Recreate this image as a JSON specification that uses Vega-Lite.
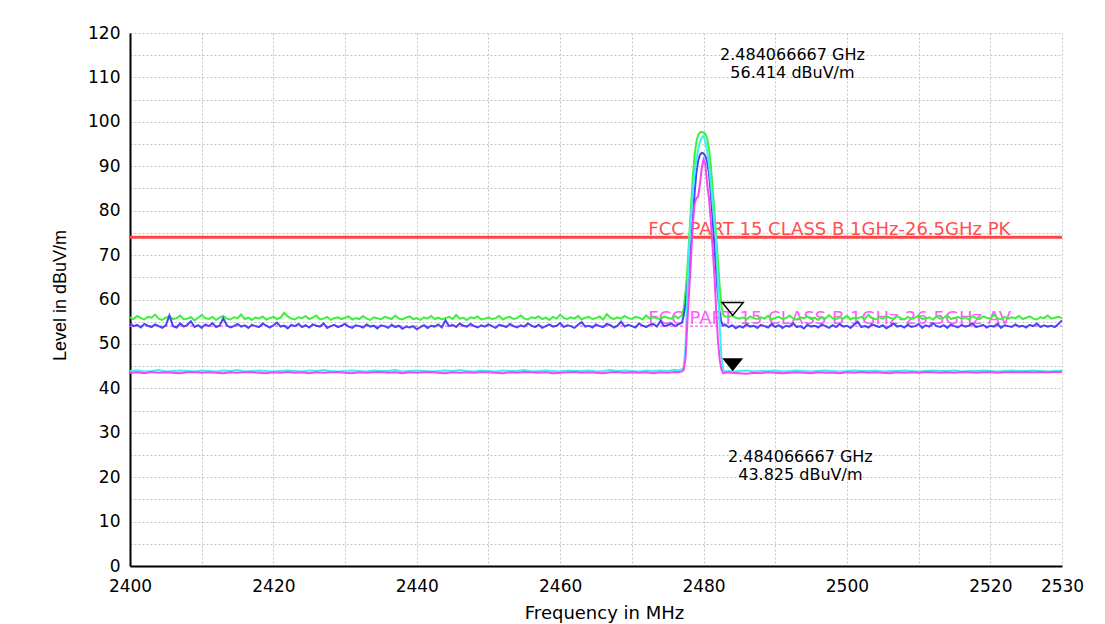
{
  "$schema": "https://vega.github.io/schema/vega-lite/v6.json",
  "width": 932,
  "height": 533,
  "autosize": {"type": "none"},
  "padding": {"left": 130, "top": 33, "right": 43, "bottom": 58},
  "background": "white",
  "config": {"view": {"stroke": null}, "font": "DejaVu Sans"},
  "datasets": {
    "green": [
      {"f":2400,"v":56.0},{"f":2400.5,"v":55.6},{"f":2401,"v":56.3},{"f":2401.5,"v":55.8},{"f":2402,"v":55.5},{"f":2402.5,"v":56.1},{"f":2403,"v":55.9},{"f":2403.5,"v":56.6},{"f":2404,"v":55.7},{"f":2404.5,"v":55.4},
      {"f":2405,"v":55.9},{"f":2405.5,"v":56.2},{"f":2406,"v":55.6},{"f":2406.5,"v":55.8},{"f":2407,"v":56.4},{"f":2407.5,"v":55.5},{"f":2408,"v":55.7},{"f":2408.5,"v":56.0},{"f":2409,"v":55.3},{"f":2409.5,"v":55.9},
      {"f":2410,"v":56.5},{"f":2410.5,"v":55.8},{"f":2411,"v":55.6},{"f":2411.5,"v":56.1},{"f":2412,"v":55.4},{"f":2412.5,"v":55.9},{"f":2413,"v":56.3},{"f":2413.5,"v":55.7},{"f":2414,"v":55.5},{"f":2414.5,"v":56.0},
      {"f":2415,"v":55.8},{"f":2415.5,"v":56.6},{"f":2416,"v":55.6},{"f":2416.5,"v":55.9},{"f":2417,"v":55.4},{"f":2417.5,"v":56.0},{"f":2418,"v":55.7},{"f":2418.5,"v":56.2},{"f":2419,"v":55.5},{"f":2419.5,"v":55.8},
      {"f":2420,"v":56.1},{"f":2420.5,"v":55.6},{"f":2421,"v":55.9},{"f":2421.5,"v":57.0},{"f":2422,"v":56.2},{"f":2422.5,"v":55.7},{"f":2423,"v":55.5},{"f":2423.5,"v":56.0},{"f":2424,"v":55.8},{"f":2424.5,"v":56.3},
      {"f":2425,"v":55.6},{"f":2425.5,"v":55.9},{"f":2426,"v":56.4},{"f":2426.5,"v":55.5},{"f":2427,"v":55.7},{"f":2427.5,"v":56.1},{"f":2428,"v":55.4},{"f":2428.5,"v":55.8},{"f":2429,"v":56.0},{"f":2429.5,"v":55.6},
      {"f":2430,"v":55.9},{"f":2430.5,"v":56.2},{"f":2431,"v":55.5},{"f":2431.5,"v":55.8},{"f":2432,"v":55.6},{"f":2432.5,"v":56.3},{"f":2433,"v":55.7},{"f":2433.5,"v":55.4},{"f":2434,"v":56.0},{"f":2434.5,"v":55.8},
      {"f":2435,"v":55.5},{"f":2435.5,"v":56.1},{"f":2436,"v":55.9},{"f":2436.5,"v":55.6},{"f":2437,"v":56.4},{"f":2437.5,"v":55.7},{"f":2438,"v":55.5},{"f":2438.5,"v":55.9},{"f":2439,"v":56.2},{"f":2439.5,"v":55.6},
      {"f":2440,"v":55.8},{"f":2440.5,"v":55.4},{"f":2441,"v":56.0},{"f":2441.5,"v":55.7},{"f":2442,"v":56.3},{"f":2442.5,"v":55.6},{"f":2443,"v":55.9},{"f":2443.5,"v":55.5},{"f":2444,"v":55.8},{"f":2444.5,"v":56.1},
      {"f":2445,"v":55.6},{"f":2445.5,"v":56.5},{"f":2446,"v":55.7},{"f":2446.5,"v":55.9},{"f":2447,"v":55.4},{"f":2447.5,"v":56.0},{"f":2448,"v":55.8},{"f":2448.5,"v":56.2},{"f":2449,"v":55.5},{"f":2449.5,"v":55.7},
      {"f":2450,"v":56.0},{"f":2450.5,"v":55.6},{"f":2451,"v":55.8},{"f":2451.5,"v":56.3},{"f":2452,"v":55.5},{"f":2452.5,"v":55.9},{"f":2453,"v":56.1},{"f":2453.5,"v":55.6},{"f":2454,"v":55.8},{"f":2454.5,"v":56.4},
      {"f":2455,"v":55.7},{"f":2455.5,"v":55.5},{"f":2456,"v":56.0},{"f":2456.5,"v":55.8},{"f":2457,"v":56.2},{"f":2457.5,"v":55.6},{"f":2458,"v":55.9},{"f":2458.5,"v":55.4},{"f":2459,"v":56.1},{"f":2459.5,"v":55.7},
      {"f":2460,"v":56.6},{"f":2460.5,"v":55.8},{"f":2461,"v":55.6},{"f":2461.5,"v":56.0},{"f":2462,"v":55.7},{"f":2462.5,"v":56.3},{"f":2463,"v":55.5},{"f":2463.5,"v":55.9},{"f":2464,"v":56.1},{"f":2464.5,"v":55.6},
      {"f":2465,"v":55.8},{"f":2465.5,"v":56.2},{"f":2466,"v":55.5},{"f":2466.5,"v":56.7},{"f":2467,"v":55.9},{"f":2467.5,"v":55.6},{"f":2468,"v":56.0},{"f":2468.5,"v":55.7},{"f":2469,"v":56.3},{"f":2469.5,"v":55.8},
      {"f":2470,"v":55.6},{"f":2470.5,"v":56.1},{"f":2471,"v":55.9},{"f":2471.5,"v":55.5},{"f":2472,"v":56.4},{"f":2472.5,"v":55.7},{"f":2473,"v":56.0},{"f":2473.5,"v":55.8},{"f":2474,"v":55.6},{"f":2474.5,"v":56.2},
      {"f":2475,"v":55.9},{"f":2475.5,"v":55.7},{"f":2476,"v":56.3},{"f":2476.5,"v":55.8},
      {"f":2477,"v":56.5},{"f":2477.25,"v":58},{"f":2477.5,"v":62},{"f":2477.75,"v":67},{"f":2478,"v":74},{"f":2478.25,"v":81},{"f":2478.5,"v":87.5},{"f":2478.75,"v":92.5},{"f":2479,"v":95.5},{"f":2479.25,"v":97},{"f":2479.5,"v":97.6},{"f":2479.75,"v":97.7},{"f":2480,"v":97.6},{"f":2480.25,"v":97.3},{"f":2480.5,"v":96.3},{"f":2480.75,"v":94},{"f":2481,"v":90.5},{"f":2481.25,"v":85.5},{"f":2481.5,"v":80},{"f":2481.75,"v":74.5},{"f":2482,"v":69},{"f":2482.25,"v":63},{"f":2482.5,"v":58.5},{"f":2482.75,"v":56.6},{"f":2483,"v":56.2},
      {"f":2483.5,"v":56.1},{"f":2484,"v":56.4},{"f":2484.5,"v":55.9},{"f":2485,"v":55.7},{"f":2485.5,"v":56.0},{"f":2486,"v":55.5},{"f":2486.5,"v":56.2},{"f":2487,"v":55.8},{"f":2487.5,"v":55.6},{"f":2488,"v":56.0},
      {"f":2488.5,"v":55.7},{"f":2489,"v":56.3},{"f":2489.5,"v":55.5},{"f":2490,"v":55.9},{"f":2490.5,"v":56.1},{"f":2491,"v":55.6},{"f":2491.5,"v":55.8},{"f":2492,"v":56.4},{"f":2492.5,"v":55.7},{"f":2493,"v":55.5},
      {"f":2493.5,"v":56.0},{"f":2494,"v":55.8},{"f":2494.5,"v":56.2},{"f":2495,"v":55.6},{"f":2495.5,"v":55.9},{"f":2496,"v":55.4},{"f":2496.5,"v":56.1},{"f":2497,"v":55.7},{"f":2497.5,"v":56.5},{"f":2498,"v":55.8},
      {"f":2498.5,"v":55.6},{"f":2499,"v":56.0},{"f":2499.5,"v":55.7},{"f":2500,"v":56.3},{"f":2500.5,"v":55.5},{"f":2501,"v":55.9},{"f":2501.5,"v":55.8},{"f":2502,"v":56.1},{"f":2502.5,"v":55.6},{"f":2503,"v":56.6},
      {"f":2503.5,"v":55.8},{"f":2504,"v":55.5},{"f":2504.5,"v":56.0},{"f":2505,"v":55.7},{"f":2505.5,"v":56.2},{"f":2506,"v":55.9},{"f":2506.5,"v":55.6},{"f":2507,"v":56.3},{"f":2507.5,"v":55.8},{"f":2508,"v":55.5},
      {"f":2508.5,"v":56.1},{"f":2509,"v":55.7},{"f":2509.5,"v":55.9},{"f":2510,"v":56.4},{"f":2510.5,"v":55.6},{"f":2511,"v":55.8},{"f":2511.5,"v":56.0},{"f":2512,"v":55.5},{"f":2512.5,"v":56.2},{"f":2513,"v":55.7},
      {"f":2513.5,"v":55.9},{"f":2514,"v":56.5},{"f":2514.5,"v":55.6},{"f":2515,"v":55.8},{"f":2515.5,"v":56.1},{"f":2516,"v":55.7},{"f":2516.5,"v":56.0},{"f":2517,"v":55.5},{"f":2517.5,"v":56.3},{"f":2518,"v":55.8},
      {"f":2518.5,"v":55.6},{"f":2519,"v":56.2},{"f":2519.5,"v":55.9},{"f":2520,"v":55.7},{"f":2520.5,"v":56.6},{"f":2521,"v":55.8},{"f":2521.5,"v":55.5},{"f":2522,"v":56.1},{"f":2522.5,"v":55.7},{"f":2523,"v":56.0},
      {"f":2523.5,"v":55.8},{"f":2524,"v":56.3},{"f":2524.5,"v":55.6},{"f":2525,"v":55.9},{"f":2525.5,"v":56.2},{"f":2526,"v":55.7},{"f":2526.5,"v":55.5},{"f":2527,"v":56.0},{"f":2527.5,"v":55.8},{"f":2528,"v":56.4},
      {"f":2528.5,"v":55.7},{"f":2529,"v":55.9},{"f":2529.5,"v":56.1},{"f":2530,"v":55.8}
    ],
    "blue": [
      {"f":2400,"v":54.6},{"f":2400.5,"v":54.0},{"f":2401,"v":54.3},{"f":2401.5,"v":53.7},{"f":2402,"v":54.5},{"f":2402.5,"v":54.1},{"f":2403,"v":53.8},{"f":2403.5,"v":54.4},{"f":2404,"v":54.0},{"f":2404.5,"v":53.6},
      {"f":2405,"v":54.2},{"f":2405.5,"v":56.4},{"f":2406,"v":54.0},{"f":2406.5,"v":53.7},{"f":2407,"v":54.6},{"f":2407.5,"v":53.9},{"f":2408,"v":54.3},{"f":2408.5,"v":55.1},{"f":2409,"v":53.8},{"f":2409.5,"v":54.2},
      {"f":2410,"v":53.6},{"f":2410.5,"v":54.4},{"f":2411,"v":54.0},{"f":2411.5,"v":54.7},{"f":2412,"v":53.8},{"f":2412.5,"v":54.1},{"f":2413,"v":55.8},{"f":2413.5,"v":54.2},{"f":2414,"v":53.7},{"f":2414.5,"v":54.0},
      {"f":2415,"v":54.5},{"f":2415.5,"v":53.9},{"f":2416,"v":54.2},{"f":2416.5,"v":53.6},{"f":2417,"v":54.3},{"f":2417.5,"v":54.0},{"f":2418,"v":53.8},{"f":2418.5,"v":54.6},{"f":2419,"v":54.1},{"f":2419.5,"v":53.7},
      {"f":2420,"v":54.2},{"f":2420.5,"v":54.8},{"f":2421,"v":53.9},{"f":2421.5,"v":54.1},{"f":2422,"v":53.5},{"f":2422.5,"v":54.3},{"f":2423,"v":54.0},{"f":2423.5,"v":54.5},{"f":2424,"v":53.8},{"f":2424.5,"v":54.2},
      {"f":2425,"v":53.7},{"f":2425.5,"v":54.4},{"f":2426,"v":54.1},{"f":2426.5,"v":53.9},{"f":2427,"v":54.6},{"f":2427.5,"v":53.6},{"f":2428,"v":54.0},{"f":2428.5,"v":54.3},{"f":2429,"v":53.8},{"f":2429.5,"v":54.1},
      {"f":2430,"v":54.5},{"f":2430.5,"v":53.9},{"f":2431,"v":53.6},{"f":2431.5,"v":54.2},{"f":2432,"v":54.0},{"f":2432.5,"v":53.7},{"f":2433,"v":54.4},{"f":2433.5,"v":53.9},{"f":2434,"v":54.1},{"f":2434.5,"v":53.5},
      {"f":2435,"v":54.2},{"f":2435.5,"v":54.0},{"f":2436,"v":53.6},{"f":2436.5,"v":54.3},{"f":2437,"v":53.8},{"f":2437.5,"v":54.1},{"f":2438,"v":53.4},{"f":2438.5,"v":53.9},{"f":2439,"v":53.7},{"f":2439.5,"v":54.0},
      {"f":2440,"v":53.3},{"f":2440.5,"v":53.8},{"f":2441,"v":54.2},{"f":2441.5,"v":53.6},{"f":2442,"v":54.1},{"f":2442.5,"v":53.9},{"f":2443,"v":54.4},{"f":2443.5,"v":53.7},{"f":2444,"v":55.3},{"f":2444.5,"v":54.0},
      {"f":2445,"v":54.3},{"f":2445.5,"v":53.8},{"f":2446,"v":54.6},{"f":2446.5,"v":54.1},{"f":2447,"v":53.9},{"f":2447.5,"v":54.5},{"f":2448,"v":54.0},{"f":2448.5,"v":53.7},{"f":2449,"v":54.2},{"f":2449.5,"v":53.9},
      {"f":2450,"v":54.4},{"f":2450.5,"v":54.0},{"f":2451,"v":53.6},{"f":2451.5,"v":54.3},{"f":2452,"v":54.1},{"f":2452.5,"v":53.8},{"f":2453,"v":54.5},{"f":2453.5,"v":54.0},{"f":2454,"v":53.7},{"f":2454.5,"v":54.2},
      {"f":2455,"v":53.9},{"f":2455.5,"v":54.6},{"f":2456,"v":54.1},{"f":2456.5,"v":53.8},{"f":2457,"v":54.3},{"f":2457.5,"v":53.6},{"f":2458,"v":54.0},{"f":2458.5,"v":54.4},{"f":2459,"v":53.9},{"f":2459.5,"v":54.1},
      {"f":2460,"v":54.7},{"f":2460.5,"v":53.8},{"f":2461,"v":54.2},{"f":2461.5,"v":54.0},{"f":2462,"v":53.6},{"f":2462.5,"v":54.3},{"f":2463,"v":54.9},{"f":2463.5,"v":53.9},{"f":2464,"v":54.1},{"f":2464.5,"v":53.7},
      {"f":2465,"v":54.4},{"f":2465.5,"v":54.0},{"f":2466,"v":53.8},{"f":2466.5,"v":54.5},{"f":2467,"v":54.2},{"f":2467.5,"v":53.7},{"f":2468,"v":54.1},{"f":2468.5,"v":55.0},{"f":2469,"v":53.9},{"f":2469.5,"v":54.3},
      {"f":2470,"v":54.0},{"f":2470.5,"v":53.7},{"f":2471,"v":54.6},{"f":2471.5,"v":54.1},{"f":2472,"v":53.8},{"f":2472.5,"v":54.3},{"f":2473,"v":54.5},{"f":2473.5,"v":53.9},{"f":2474,"v":55.2},{"f":2474.5,"v":54.0},
      {"f":2475,"v":54.2},{"f":2475.5,"v":54.6},{"f":2476,"v":54.0},{"f":2476.5,"v":54.4},
      {"f":2477,"v":54.8},{"f":2477.25,"v":56.5},{"f":2477.5,"v":59},{"f":2477.75,"v":63},{"f":2478,"v":67.5},{"f":2478.25,"v":72},{"f":2478.5,"v":78},{"f":2478.75,"v":84},{"f":2479,"v":88.5},{"f":2479.25,"v":91.2},{"f":2479.5,"v":92.6},{"f":2479.75,"v":93},{"f":2480,"v":92.9},{"f":2480.25,"v":92.3},{"f":2480.5,"v":91},{"f":2480.75,"v":88.5},{"f":2481,"v":84},{"f":2481.25,"v":78.5},{"f":2481.5,"v":72.5},{"f":2481.75,"v":66.5},{"f":2482,"v":61},{"f":2482.25,"v":57},{"f":2482.5,"v":54.8},{"f":2482.75,"v":54.1},{"f":2483,"v":54.4},
      {"f":2483.5,"v":53.8},{"f":2484,"v":54.2},{"f":2484.5,"v":53.5},{"f":2485,"v":54.0},{"f":2485.5,"v":53.7},{"f":2486,"v":54.4},{"f":2486.5,"v":53.9},{"f":2487,"v":54.1},{"f":2487.5,"v":53.6},{"f":2488,"v":54.3},
      {"f":2488.5,"v":54.0},{"f":2489,"v":53.7},{"f":2489.5,"v":54.5},{"f":2490,"v":53.8},{"f":2490.5,"v":54.2},{"f":2491,"v":53.6},{"f":2491.5,"v":54.1},{"f":2492,"v":53.9},{"f":2492.5,"v":54.6},{"f":2493,"v":53.8},
      {"f":2493.5,"v":54.0},{"f":2494,"v":53.5},{"f":2494.5,"v":54.3},{"f":2495,"v":53.9},{"f":2495.5,"v":54.1},{"f":2496,"v":53.7},{"f":2496.5,"v":54.4},{"f":2497,"v":54.0},{"f":2497.5,"v":53.6},{"f":2498,"v":54.2},
      {"f":2498.5,"v":53.8},{"f":2499,"v":54.5},{"f":2499.5,"v":53.9},{"f":2500,"v":54.1},{"f":2500.5,"v":53.6},{"f":2501,"v":54.3},{"f":2501.5,"v":55.0},{"f":2502,"v":53.8},{"f":2502.5,"v":54.0},{"f":2503,"v":53.7},
      {"f":2503.5,"v":54.4},{"f":2504,"v":54.1},{"f":2504.5,"v":53.8},{"f":2505,"v":54.2},{"f":2505.5,"v":53.5},{"f":2506,"v":54.0},{"f":2506.5,"v":54.6},{"f":2507,"v":53.9},{"f":2507.5,"v":54.1},{"f":2508,"v":53.7},
      {"f":2508.5,"v":54.3},{"f":2509,"v":53.8},{"f":2509.5,"v":54.0},{"f":2510,"v":54.5},{"f":2510.5,"v":53.6},{"f":2511,"v":54.2},{"f":2511.5,"v":53.9},{"f":2512,"v":54.7},{"f":2512.5,"v":54.0},{"f":2513,"v":53.8},
      {"f":2513.5,"v":54.2},{"f":2514,"v":53.6},{"f":2514.5,"v":54.4},{"f":2515,"v":54.0},{"f":2515.5,"v":53.7},{"f":2516,"v":54.3},{"f":2516.5,"v":53.9},{"f":2517,"v":54.1},{"f":2517.5,"v":54.6},{"f":2518,"v":53.8},
      {"f":2518.5,"v":54.0},{"f":2519,"v":54.3},{"f":2519.5,"v":53.7},{"f":2520,"v":54.1},{"f":2520.5,"v":53.9},{"f":2521,"v":54.5},{"f":2521.5,"v":53.6},{"f":2522,"v":54.2},{"f":2522.5,"v":54.0},{"f":2523,"v":53.8},
      {"f":2523.5,"v":54.4},{"f":2524,"v":53.9},{"f":2524.5,"v":54.1},{"f":2525,"v":53.7},{"f":2525.5,"v":54.3},{"f":2526,"v":54.0},{"f":2526.5,"v":54.6},{"f":2527,"v":53.8},{"f":2527.5,"v":54.2},{"f":2528,"v":53.9},
      {"f":2528.5,"v":54.1},{"f":2529,"v":53.8},{"f":2529.5,"v":54.5},{"f":2530,"v":55.3}
    ],
    "cyan": [
      {"f":2400,"v":43.9},{"f":2401,"v":44.0},{"f":2402,"v":43.8},{"f":2403,"v":43.9},{"f":2404,"v":44.1},{"f":2405,"v":43.8},{"f":2406,"v":43.9},{"f":2407,"v":44.0},{"f":2408,"v":43.9},{"f":2409,"v":43.8},
      {"f":2410,"v":44.0},{"f":2411,"v":43.9},{"f":2412,"v":43.8},{"f":2413,"v":44.0},{"f":2414,"v":43.9},{"f":2415,"v":44.1},{"f":2416,"v":43.8},{"f":2417,"v":43.9},{"f":2418,"v":44.0},{"f":2419,"v":43.9},
      {"f":2420,"v":43.8},{"f":2421,"v":43.9},{"f":2422,"v":44.0},{"f":2423,"v":43.9},{"f":2424,"v":43.8},{"f":2425,"v":44.0},{"f":2426,"v":43.9},{"f":2427,"v":44.1},{"f":2428,"v":43.9},{"f":2429,"v":43.8},
      {"f":2430,"v":43.9},{"f":2431,"v":44.0},{"f":2432,"v":43.9},{"f":2433,"v":43.8},{"f":2434,"v":44.0},{"f":2435,"v":43.9},{"f":2436,"v":43.9},{"f":2437,"v":44.1},{"f":2438,"v":43.8},{"f":2439,"v":43.9},
      {"f":2440,"v":44.0},{"f":2441,"v":43.9},{"f":2442,"v":43.8},{"f":2443,"v":43.9},{"f":2444,"v":44.0},{"f":2445,"v":43.9},{"f":2446,"v":44.1},{"f":2447,"v":43.9},{"f":2448,"v":43.8},{"f":2449,"v":44.0},
      {"f":2450,"v":43.9},{"f":2451,"v":43.8},{"f":2452,"v":44.0},{"f":2453,"v":43.9},{"f":2454,"v":43.9},{"f":2455,"v":44.1},{"f":2456,"v":43.8},{"f":2457,"v":43.9},{"f":2458,"v":44.0},{"f":2459,"v":43.9},
      {"f":2460,"v":43.8},{"f":2461,"v":44.0},{"f":2462,"v":43.9},{"f":2463,"v":43.9},{"f":2464,"v":44.0},{"f":2465,"v":43.8},{"f":2466,"v":43.9},{"f":2467,"v":44.1},{"f":2468,"v":43.9},{"f":2469,"v":44.0},
      {"f":2470,"v":43.9},{"f":2471,"v":43.8},{"f":2472,"v":44.0},{"f":2473,"v":43.9},{"f":2474,"v":44.0},{"f":2475,"v":43.9},{"f":2476,"v":44.2},
      {"f":2476.5,"v":44.0},{"f":2477,"v":44.3},{"f":2477.25,"v":44.8},{"f":2477.5,"v":50},{"f":2477.75,"v":62},{"f":2478,"v":72},{"f":2478.25,"v":79},{"f":2478.5,"v":84.5},{"f":2478.75,"v":88.5},{"f":2479,"v":91.5},{"f":2479.25,"v":93.8},{"f":2479.5,"v":95.5},{"f":2479.75,"v":96.5},{"f":2480,"v":96.8},{"f":2480.25,"v":95.5},{"f":2480.5,"v":93.5},{"f":2480.75,"v":90.5},{"f":2481,"v":86.5},{"f":2481.25,"v":82},{"f":2481.5,"v":77.5},{"f":2481.75,"v":73},{"f":2482,"v":64},{"f":2482.25,"v":54},{"f":2482.5,"v":47},{"f":2482.75,"v":44.2},{"f":2483,"v":43.8},{"f":2483.5,"v":43.9},
      {"f":2484,"v":43.8},{"f":2485,"v":43.9},{"f":2486,"v":44.0},{"f":2487,"v":43.8},{"f":2488,"v":43.9},{"f":2489,"v":43.9},{"f":2490,"v":44.0},{"f":2491,"v":43.8},{"f":2492,"v":43.9},{"f":2493,"v":44.0},
      {"f":2494,"v":43.9},{"f":2495,"v":43.8},{"f":2496,"v":43.9},{"f":2497,"v":44.0},{"f":2498,"v":43.9},{"f":2499,"v":43.8},{"f":2500,"v":43.9},{"f":2501,"v":44.0},{"f":2502,"v":43.9},{"f":2503,"v":43.9},
      {"f":2504,"v":44.0},{"f":2505,"v":43.8},{"f":2506,"v":43.9},{"f":2507,"v":43.9},{"f":2508,"v":44.0},{"f":2509,"v":43.9},{"f":2510,"v":43.8},{"f":2511,"v":43.9},{"f":2512,"v":44.0},{"f":2513,"v":43.9},
      {"f":2514,"v":43.9},{"f":2515,"v":44.0},{"f":2516,"v":43.8},{"f":2517,"v":43.9},{"f":2518,"v":43.9},{"f":2519,"v":44.0},{"f":2520,"v":43.9},{"f":2521,"v":43.8},{"f":2522,"v":43.9},{"f":2523,"v":44.0},
      {"f":2524,"v":43.9},{"f":2525,"v":43.9},{"f":2526,"v":44.0},{"f":2527,"v":43.9},{"f":2528,"v":43.8},{"f":2529,"v":43.9},{"f":2530,"v":44.0}
    ],
    "magenta": [
      {"f":2400,"v":43.5},{"f":2401,"v":43.6},{"f":2402,"v":43.4},{"f":2403,"v":43.7},{"f":2404,"v":43.5},{"f":2405,"v":43.6},{"f":2406,"v":43.5},{"f":2407,"v":43.4},{"f":2408,"v":43.6},{"f":2409,"v":43.7},
      {"f":2410,"v":43.5},{"f":2411,"v":43.6},{"f":2412,"v":43.5},{"f":2413,"v":43.4},{"f":2414,"v":43.6},{"f":2415,"v":43.5},{"f":2416,"v":43.7},{"f":2417,"v":43.6},{"f":2418,"v":43.5},{"f":2419,"v":43.4},
      {"f":2420,"v":43.6},{"f":2421,"v":43.5},{"f":2422,"v":43.7},{"f":2423,"v":43.5},{"f":2424,"v":43.6},{"f":2425,"v":43.4},{"f":2426,"v":43.6},{"f":2427,"v":43.5},{"f":2428,"v":43.6},{"f":2429,"v":43.7},
      {"f":2430,"v":43.5},{"f":2431,"v":43.4},{"f":2432,"v":43.6},{"f":2433,"v":43.5},{"f":2434,"v":43.6},{"f":2435,"v":43.7},{"f":2436,"v":43.5},{"f":2437,"v":43.6},{"f":2438,"v":43.4},{"f":2439,"v":43.6},
      {"f":2440,"v":43.5},{"f":2441,"v":43.6},{"f":2442,"v":43.7},{"f":2443,"v":43.5},{"f":2444,"v":43.4},{"f":2445,"v":43.6},{"f":2446,"v":43.5},{"f":2447,"v":43.6},{"f":2448,"v":43.5},{"f":2449,"v":43.7},
      {"f":2450,"v":43.6},{"f":2451,"v":43.5},{"f":2452,"v":43.4},{"f":2453,"v":43.6},{"f":2454,"v":43.5},{"f":2455,"v":43.7},{"f":2456,"v":43.6},{"f":2457,"v":43.5},{"f":2458,"v":43.6},{"f":2459,"v":43.4},
      {"f":2460,"v":43.5},{"f":2461,"v":43.6},{"f":2462,"v":43.7},{"f":2463,"v":43.5},{"f":2464,"v":43.6},{"f":2465,"v":43.5},{"f":2466,"v":43.4},{"f":2467,"v":43.6},{"f":2468,"v":43.7},{"f":2469,"v":43.5},
      {"f":2470,"v":43.6},{"f":2471,"v":43.5},{"f":2472,"v":43.6},{"f":2473,"v":43.4},{"f":2474,"v":43.6},{"f":2475,"v":43.5},{"f":2476,"v":43.7},
      {"f":2476.5,"v":43.6},{"f":2477,"v":43.8},{"f":2477.25,"v":44.2},{"f":2477.5,"v":47},{"f":2477.75,"v":55},{"f":2478,"v":62},{"f":2478.25,"v":69},{"f":2478.5,"v":77},{"f":2478.75,"v":81.5},{"f":2479,"v":82.8},{"f":2479.25,"v":83.2},{"f":2479.5,"v":86},{"f":2479.75,"v":89.5},{"f":2480,"v":91.5},{"f":2480.25,"v":90.5},{"f":2480.5,"v":86},{"f":2480.75,"v":83},{"f":2481,"v":78},{"f":2481.25,"v":72},{"f":2481.5,"v":66},{"f":2481.75,"v":58},{"f":2482,"v":51},{"f":2482.25,"v":46.5},{"f":2482.5,"v":44.2},{"f":2482.75,"v":43.4},{"f":2483,"v":43.5},{"f":2483.5,"v":43.6},
      {"f":2484,"v":43.5},{"f":2485,"v":43.4},{"f":2486,"v":43.3},{"f":2487,"v":43.5},{"f":2488,"v":43.4},{"f":2489,"v":43.6},{"f":2490,"v":43.5},{"f":2491,"v":43.4},{"f":2492,"v":43.5},{"f":2493,"v":43.6},
      {"f":2494,"v":43.5},{"f":2495,"v":43.4},{"f":2496,"v":43.6},{"f":2497,"v":43.5},{"f":2498,"v":43.5},{"f":2499,"v":43.4},{"f":2500,"v":43.6},{"f":2501,"v":43.5},{"f":2502,"v":43.7},{"f":2503,"v":43.5},
      {"f":2504,"v":43.6},{"f":2505,"v":43.5},{"f":2506,"v":43.4},{"f":2507,"v":43.6},{"f":2508,"v":43.5},{"f":2509,"v":43.6},{"f":2510,"v":43.5},{"f":2511,"v":43.7},{"f":2512,"v":43.6},{"f":2513,"v":43.5},
      {"f":2514,"v":43.6},{"f":2515,"v":43.5},{"f":2516,"v":43.7},{"f":2517,"v":43.6},{"f":2518,"v":43.5},{"f":2519,"v":43.6},{"f":2520,"v":43.7},{"f":2521,"v":43.5},{"f":2522,"v":43.6},{"f":2523,"v":43.7},
      {"f":2524,"v":43.6},{"f":2525,"v":43.7},{"f":2526,"v":43.6},{"f":2527,"v":43.7},{"f":2528,"v":43.6},{"f":2529,"v":43.7},{"f":2530,"v":43.7}
    ],
    "limits": [
      {"name":"FCC PART 15 CLASS B 1GHz-26.5GHz PK","kind":"PK","f":2472.3,"v":74},
      {"name":"FCC PART 15 CLASS B 1GHz-26.5GHz AV","kind":"AV","f":2472.3,"v":54}
    ],
    "markers": [
      {"kind":"peak","f":2484.066667,"v":56.414},
      {"kind":"avg","f":2484.066667,"v":43.825}
    ],
    "notes": [
      {"f":2492.4,"v":115.1,"t":"2.484066667 GHz"},
      {"f":2492.4,"v":111.0,"t":"56.414 dBuV/m"},
      {"f":2493.5,"v":24.5,"t":"2.484066667 GHz"},
      {"f":2493.5,"v":20.5,"t":"43.825 dBuV/m"}
    ],
    "yticks": [{"v":0},{"v":5},{"v":10},{"v":15},{"v":20},{"v":25},{"v":30},{"v":35},{"v":40},{"v":45},{"v":50},{"v":55},{"v":60},{"v":65},{"v":70},{"v":75},{"v":80},{"v":85},{"v":90},{"v":95},{"v":100},{"v":105},{"v":110},{"v":115},{"v":120}],
    "xticks": [{"f":2400},{"f":2410},{"f":2420},{"f":2430},{"f":2440},{"f":2450},{"f":2460},{"f":2470},{"f":2480},{"f":2490},{"f":2500},{"f":2510},{"f":2520},{"f":2530}]
  },
  "encoding": {
    "x": {"field": "f", "type": "quantitative",
      "scale": {"domain": [2400, 2530], "nice": false, "zero": false},
      "axis": {
        "values": [2400, 2410, 2420, 2430, 2440, 2450, 2460, 2470, 2480, 2490, 2500, 2510, 2520, 2530],
        "format": "d",
        "labelExpr": "(datum.value % 20 === 0 || datum.value === 2530) ? datum.label : ''",
        "labelOverlap": false, "labelFlush": false,
        "labelFont": "DejaVu Sans", "labelFontSize": 17, "labelColor": "black", "labelPadding": 12,
        "ticks": false, "tickSize": 0,
        "domainColor": "black", "domainWidth": 2,
        "grid": true, "gridColor": "#c4c4c4", "gridDash": [2, 2], "gridWidth": 1,
        "title": "Frequency in MHz", "titleFont": "DejaVu Sans", "titleFontSize": 18, "titleFontWeight": "normal",
        "titleColor": "black", "titleX": 474, "titleY": 47, "titleBaseline": "middle", "titleAlign": "center"
      }
    },
    "y": {"field": "v", "type": "quantitative",
      "scale": {"domain": [0, 120], "nice": false},
      "axis": {
        "values": [0, 5, 10, 15, 20, 25, 30, 35, 40, 45, 50, 55, 60, 65, 70, 75, 80, 85, 90, 95, 100, 105, 110, 115, 120],
        "format": "d",
        "labelExpr": "datum.value % 10 === 0 ? datum.label : ''",
        "labelOverlap": false, "labelFlush": false,
        "labelFont": "DejaVu Sans", "labelFontSize": 17, "labelColor": "black", "labelPadding": 10,
        "ticks": false, "tickSize": 0,
        "domainColor": "black", "domainWidth": 2,
        "grid": true, "gridColor": "#c4c4c4", "gridDash": [2, 2], "gridWidth": 1,
        "title": "Level in dBuV/m", "titleFont": "Liberation Sans", "titleFontSize": 18, "titleFontWeight": "normal",
        "titleColor": "black", "titleX": -70, "titleY": 262, "titleAngle": -90, "titleBaseline": "middle", "titleAlign": "center"
      }
    }
  },
  "layer": [
    {
      "data": {"name": "limits"},
      "transform": [{"filter": "datum.kind === 'PK'"}],
      "mark": {"type": "rule", "color": "#ff4646", "strokeWidth": 3},
      "encoding": {"x": {"datum": 2400}, "x2": {"datum": 2530}}
    },
    {
      "data": {"name": "limits"},
      "transform": [{"filter": "datum.kind === 'AV'"}],
      "mark": {"type": "rule", "color": "#ff5aff", "strokeWidth": 1.2, "strokeDash": [3, 2]},
      "encoding": {"x": {"datum": 2400}, "x2": {"datum": 2530}}
    },
    {
      "data": {"name": "limits"},
      "mark": {"type": "text", "align": "left", "baseline": "alphabetic", "dy": -2, "font": "DejaVu Sans", "fontSize": 18},
      "encoding": {
        "text": {"field": "name"},
        "color": {"field": "kind", "type": "nominal", "scale": {"domain": ["PK", "AV"], "range": ["#ff5050", "#ff5aff"]}, "legend": null}
      }
    },
    {
      "data": {"name": "green"},
      "mark": {"type": "line", "color": "#3cf03c", "strokeWidth": 2}
    },
    {
      "data": {"name": "blue"},
      "mark": {"type": "line", "color": "#4646f5", "strokeWidth": 2}
    },
    {
      "data": {"name": "cyan"},
      "mark": {"type": "line", "color": "#3cf0f0", "strokeWidth": 2}
    },
    {
      "data": {"name": "magenta"},
      "mark": {"type": "line", "color": "#f546f5", "strokeWidth": 2}
    },
    {
      "data": {"name": "markers"},
      "transform": [{"filter": "datum.kind === 'peak'"}],
      "mark": {"type": "point", "shape": "M-1,-1.24L1,-1.24L0,0Z", "size": 441, "filled": false, "stroke": "black", "strokeWidth": 1.5, "opacity": 1}
    },
    {
      "data": {"name": "markers"},
      "transform": [{"filter": "datum.kind === 'avg'"}],
      "mark": {"type": "point", "shape": "M-1,-1.24L1,-1.24L0,0Z", "size": 441, "filled": true, "color": "black", "opacity": 1}
    },
    {
      "data": {"name": "notes"},
      "mark": {"type": "text", "align": "center", "baseline": "middle", "font": "DejaVu Sans", "fontSize": 16, "color": "black"},
      "encoding": {"text": {"field": "t"}}
    },
    {
      "data": {"name": "yticks"},
      "mark": {"type": "tick", "orient": "horizontal", "size": 15, "thickness": 2, "color": "black", "opacity": 1},
      "encoding": {"x": {"datum": 2400}}
    },
    {
      "data": {"name": "xticks"},
      "mark": {"type": "tick", "orient": "vertical", "size": 10, "thickness": 2, "color": "black", "opacity": 1},
      "encoding": {"y": {"datum": 0}}
    }
  ]
}
